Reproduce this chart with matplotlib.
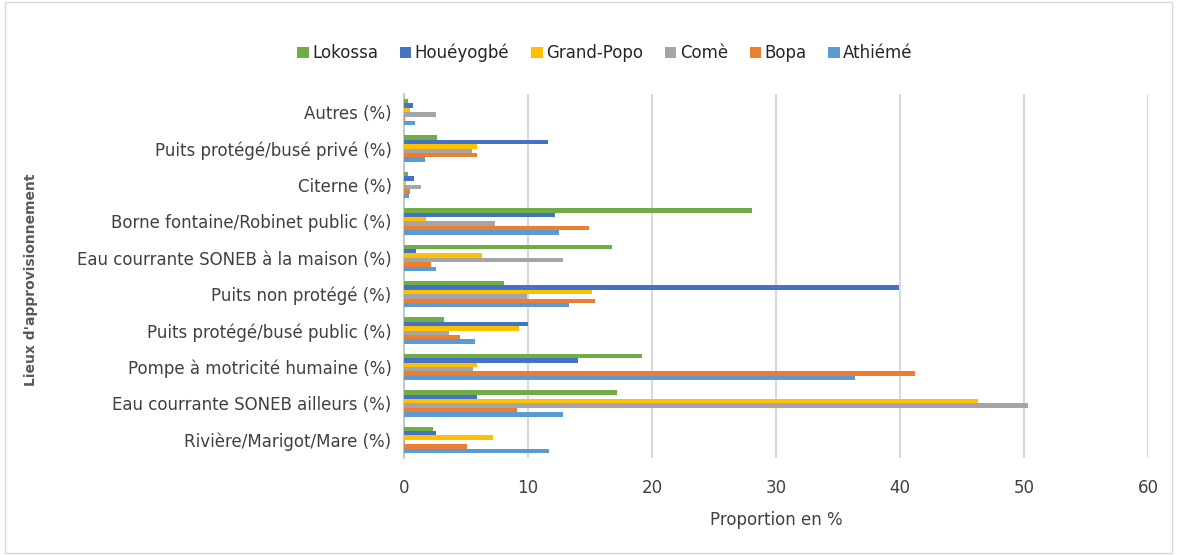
"""Lieux d'approvisionnement en eau par commune (barres horizontales groupees)."""

import numpy as np
from matplotlib import pyplot as plt
from matplotlib.patches import Rectangle

# Categories, bottom to top.
categories = [
    "Rivière/Marigot/Mare (%)",
    "Eau courrante SONEB ailleurs (%)",
    "Pompe à motricité humaine (%)",
    "Puits protégé/busé public (%)",
    "Puits non protégé (%)",
    "Eau courrante SONEB à la maison (%)",
    "Borne fontaine/Robinet public (%)",
    "Citerne (%)",
    "Puits protégé/busé privé (%)",
    "Autres (%)",
]

communes = ["Lokossa", "Houéyogbé", "Grand-Popo", "Comè", "Bopa", "Athiémé"]

lokossa = [2.3, 17.2, 19.2, 3.2, 8.1, 16.8, 28.1, 0.3, 2.7, 0.3]
houeyogbe = [2.6, 5.9, 14.0, 10.0, 39.9, 1.0, 12.2, 0.8, 11.6, 0.7]
grand_popo = [7.2, 46.3, 5.9, 9.3, 15.2, 6.3, 1.8, 0.2, 5.9, 0.5]
come = [0.1, 50.3, 5.6, 3.6, 9.9, 12.8, 7.3, 1.4, 5.5, 2.6]
bopa = [5.1, 9.1, 41.2, 4.5, 15.4, 2.2, 14.9, 0.5, 5.9, 0.1]
athieme = [11.7, 12.8, 36.4, 5.7, 13.3, 2.6, 12.5, 0.4, 1.7, 0.9]

series = [lokossa, houeyogbe, grand_popo, come, bopa, athieme]
colors = ["#70AD47", "#4472C4", "#FFC000", "#A5A5A5", "#ED7D31", "#5B9BD5"]

BAR_H = 0.12


def _main():
    fig = plt.figure(figsize=(11.77, 5.55), dpi=100)
    ax = fig.add_axes([404 / 1177, 1 - 458 / 555, 744 / 1177, 364 / 555])

    y = np.arange(len(categories))
    for i, (vals, name, col) in enumerate(zip(series, communes, colors)):
        offset = (2.5 - i) * BAR_H
        ax.barh(y + offset, vals, height=BAR_H, color=col, label=name, zorder=3)

    ax.set_xlim(0, 60)
    ax.set_ylim(-0.5, 9.5)
    ax.set_xticks(range(0, 61, 10))
    ax.set_yticks(y)
    ax.set_yticklabels(categories, fontsize=12, color="#404040")
    ax.tick_params(axis="x", labelsize=12, colors="#404040", length=0, pad=15)
    ax.tick_params(axis="y", length=0, pad=9)
    ax.grid(axis="x", color="#d9d9d9", linewidth=1.5, zorder=0)
    for side in ["top", "right", "bottom"]:
        ax.spines[side].set_visible(False)
    ax.spines["left"].set_color("#bfbfbf")
    ax.spines["left"].set_linewidth(1.2)

    ax.set_xlabel("Proportion en %", fontsize=12, color="#404040", labelpad=10)
    fig.text(31 / 1177, 1 - 280 / 555, "Lieux d'approvisionnement", rotation=90,
             ha="center", va="center", fontsize=10, fontweight="bold",
             color="#595959")

    handles, labels = ax.get_legend_handles_labels()
    fig.legend(handles, labels, loc="center", bbox_to_anchor=(605 / 1177, 1 - 53 / 555),
               ncol=6, frameon=False, fontsize=12, handlelength=0.7,
               handleheight=0.7, handletextpad=0.2, columnspacing=1.3,
               labelcolor="#262626")

    # Frame round the whole chart.
    fig.patches.append(Rectangle((0.004, 0.004), 0.992, 0.992, transform=fig.transFigure,
                                 fill=False, edgecolor="#d9d9d9", linewidth=1))

    fig.savefig("out.png", dpi=100)


if __name__ == '__main__':
    _main()
